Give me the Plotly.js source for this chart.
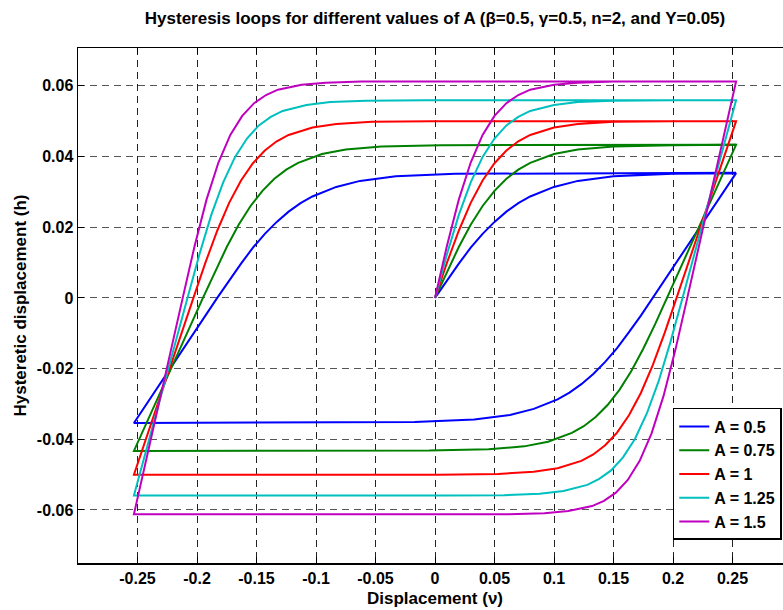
<!DOCTYPE html>
<html>
<head>
<meta charset="utf-8">
<script src="https://cdn.plot.ly/plotly-3.0.1.min.js"></script>
<style>
html, body { margin: 0; padding: 0; overflow: hidden; background: #fff; }
#chart { width: 830px; height: 610px; }
</style>
</head>
<body>
<div id="chart"></div>
<script>
// Series labels and colours
const seriesNames = ["A = 0.5", "A = 0.75", "A = 1", "A = 1.25", "A = 1.5"];
const seriesColors = ["#0000ff", "#008000", "#ff0000", "#00bfbf", "#bf00bf"];

// Tick values / labels
const xTickVals = [-0.25, -0.2, -0.15, -0.1, -0.05, 0, 0.05, 0.1, 0.15, 0.2, 0.25];
const xTickText = ["-0.25", "-0.2", "-0.15", "-0.1", "-0.05", "0", "0.05", "0.1", "0.15", "0.2", "0.25"];
const yTickVals = [-0.06, -0.04, -0.02, 0, 0.02, 0.04, 0.06];
const yTickText = ["-0.06", "-0.04", "-0.02", "0", "0.02", "0.04", "0.06"];

// A = 0.5 : initial loading, descending branch, ascending branch
const xA050 = [0, 0.01, 0.02, 0.03, 0.04, 0.05, 0.06, 0.07, 0.08, 0.10, 0.12, 0.15, 0.20, 0.253,
  0.183, 0.173, 0.163, 0.153, 0.143, 0.133, 0.123, 0.113, 0.103, 0.083, 0.063, 0.033, -0.017, -0.253,
  -0.183, -0.173, -0.163, -0.153, -0.143, -0.133, -0.123, -0.113, -0.103, -0.083, -0.063, -0.033, 0.017, 0.253];
const hA050 = [0, 0.0050, 0.0097, 0.0142, 0.0181, 0.0215, 0.0244, 0.0268, 0.0287, 0.0314, 0.0331, 0.0344, 0.0351, 0.0353,
  0, -0.0050, -0.0097, -0.0142, -0.0181, -0.0215, -0.0244, -0.0268, -0.0287, -0.0314, -0.0331, -0.0344, -0.0351, -0.0354,
  0, 0.0050, 0.0097, 0.0142, 0.0181, 0.0215, 0.0244, 0.0268, 0.0287, 0.0314, 0.0331, 0.0344, 0.0351, 0.0354];

// A = 0.75
const xA075 = [0, 0.01, 0.02, 0.03, 0.04, 0.05, 0.06, 0.07, 0.08, 0.10, 0.12, 0.15, 0.20, 0.253,
  0.195, 0.185, 0.175, 0.165, 0.155, 0.145, 0.135, 0.125, 0.115, 0.095, 0.075, 0.045, -0.005, -0.253,
  -0.195, -0.185, -0.175, -0.165, -0.155, -0.145, -0.135, -0.125, -0.115, -0.095, -0.075, -0.045, 0.005, 0.253];
const hA075 = [0, 0.0074, 0.0144, 0.0207, 0.0260, 0.0303, 0.0337, 0.0363, 0.0382, 0.0407, 0.0420, 0.0428, 0.0432, 0.0433,
  0, -0.0074, -0.0144, -0.0207, -0.0260, -0.0303, -0.0337, -0.0363, -0.0382, -0.0407, -0.0420, -0.0428, -0.0432, -0.0433,
  0, 0.0074, 0.0144, 0.0207, 0.0260, 0.0303, 0.0337, 0.0363, 0.0382, 0.0407, 0.0420, 0.0428, 0.0432, 0.0433];

// A = 1
const xA100 = [0, 0.01, 0.02, 0.03, 0.04, 0.05, 0.06, 0.07, 0.08, 0.10, 0.12, 0.15, 0.20, 0.253,
  0.203, 0.193, 0.183, 0.173, 0.163, 0.153, 0.143, 0.133, 0.123, 0.103, 0.083, 0.053, 0.003, -0.253,
  -0.203, -0.193, -0.183, -0.173, -0.163, -0.153, -0.143, -0.133, -0.123, -0.103, -0.083, -0.053, -0.003, 0.253];
const hA100 = [0, 0.0099, 0.0190, 0.0269, 0.0332, 0.0381, 0.0417, 0.0443, 0.0461, 0.0482, 0.0492, 0.0498, 0.0500, 0.0500,
  0, -0.0099, -0.0190, -0.0269, -0.0332, -0.0381, -0.0417, -0.0443, -0.0461, -0.0482, -0.0492, -0.0498, -0.0500, -0.0500,
  0, 0.0099, 0.0190, 0.0269, 0.0332, 0.0381, 0.0417, 0.0443, 0.0461, 0.0482, 0.0492, 0.0498, 0.0500, 0.0500];

// A = 1.25
const xA125 = [0, 0.01, 0.02, 0.03, 0.04, 0.05, 0.06, 0.07, 0.08, 0.10, 0.12, 0.15, 0.20, 0.253,
  0.208, 0.198, 0.188, 0.178, 0.168, 0.158, 0.148, 0.138, 0.128, 0.108, 0.088, 0.058, 0.008, -0.253,
  -0.208, -0.198, -0.188, -0.178, -0.168, -0.158, -0.148, -0.138, -0.128, -0.108, -0.088, -0.058, -0.008, 0.253];
const hA125 = [0, 0.0123, 0.0235, 0.0327, 0.0399, 0.0451, 0.0488, 0.0512, 0.0529, 0.0546, 0.0554, 0.0558, 0.0559, 0.0559,
  0, -0.0123, -0.0235, -0.0327, -0.0399, -0.0451, -0.0488, -0.0512, -0.0529, -0.0546, -0.0554, -0.0558, -0.0559, -0.0559,
  0, 0.0123, 0.0235, 0.0327, 0.0399, 0.0451, 0.0488, 0.0512, 0.0529, 0.0546, 0.0554, 0.0558, 0.0559, 0.0559];

// A = 1.5
const xA150 = [0, 0.01, 0.02, 0.03, 0.04, 0.05, 0.06, 0.07, 0.08, 0.10, 0.12, 0.15, 0.20, 0.253,
  0.212, 0.202, 0.192, 0.182, 0.172, 0.162, 0.152, 0.142, 0.132, 0.112, 0.092, 0.062, 0.012, -0.253,
  -0.212, -0.202, -0.192, -0.182, -0.172, -0.162, -0.152, -0.142, -0.132, -0.112, -0.092, -0.062, -0.012, 0.253];
const hA150 = [0, 0.0147, 0.0278, 0.0383, 0.0461, 0.0515, 0.0551, 0.0574, 0.0589, 0.0603, 0.0609, 0.0612, 0.0612, 0.0612,
  0, -0.0147, -0.0278, -0.0383, -0.0461, -0.0515, -0.0551, -0.0574, -0.0589, -0.0603, -0.0609, -0.0612, -0.0612, -0.0612,
  0, 0.0147, 0.0278, 0.0383, 0.0461, 0.0515, 0.0551, 0.0574, 0.0589, 0.0603, 0.0609, 0.0612, 0.0612, 0.0612];

const xs = [xA050, xA075, xA100, xA125, xA150];
const hs = [hA050, hA075, hA100, hA125, hA150];

const FONT = "'Liberation Sans', Arial, Helvetica, sans-serif";

const traces = seriesNames.map((name, i) => ({
  type: "scatter",
  mode: "lines",
  name: name,
  x: xs[i],
  y: hs[i],
  line: { color: seriesColors[i], width: 2 }
}));

const axisCommon = {
  ticks: "inside",
  ticklen: 6,
  tickwidth: 1,
  tickcolor: "#000",
  showline: true,
  linecolor: "#000",
  linewidth: 1.5,
  mirror: "ticks",
  showgrid: true,
  gridwidth: 1,
  griddash: "7px,5px",
  zeroline: false,
  tickfont: { family: FONT, size: 16, weight: "bold", color: "#000" }
};

const layout = {
  width: 830,
  height: 610,
  margin: { l: 78, r: 38, t: 48, b: 47 },
  paper_bgcolor: "#fff",
  plot_bgcolor: "#fff",
  showlegend: true,
  title: {
    text: "Hysteresis loops for different values of A (β=0.5, γ=0.5, n=2, and Y=0.05)",
    font: { family: FONT, size: 17, weight: "bold", color: "#000" },
    xref: "paper", x: 0.5, xanchor: "center",
    yref: "container", y: 1 - 18 / 610, yanchor: "middle"
  },
  xaxis: Object.assign({}, axisCommon, {
    range: [-0.3, 0.3],
    tickvals: xTickVals,
    ticktext: xTickText,
    gridcolor: "#222",
    title: { text: "Displacement (ν)", font: { family: FONT, size: 17, weight: "bold", color: "#000" }, standoff: 6 }
  }),
  yaxis: Object.assign({}, axisCommon, {
    range: [-0.075, 0.0707],
    tickvals: yTickVals,
    ticktext: yTickText,
    gridcolor: "#555",
    title: { text: "Hysteretic displacement (h)", font: { family: FONT, size: 17, weight: "bold", color: "#000" }, standoff: 6 }
  }),
  legend: {
    x: 0.833, y: 0.301, xanchor: "left", yanchor: "top",
    xref: "paper", yref: "paper",
    bgcolor: "#fff", bordercolor: "#000", borderwidth: 1.5,
    font: { family: FONT, size: 16, weight: "bold", color: "#000" },
    tracegroupgap: 0
  },
  hovermode: false
};

Plotly.newPlot("chart", traces, layout, { staticPlot: true, displayModeBar: false });
</script>
</body>
</html>
